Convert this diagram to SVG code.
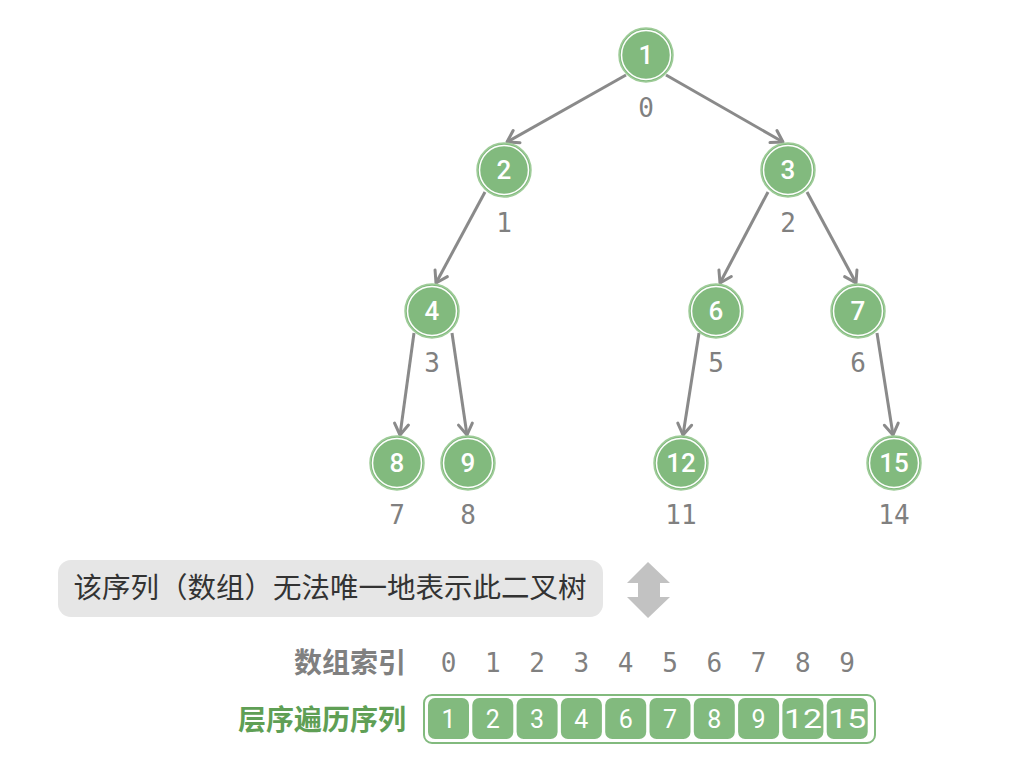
<svg xmlns="http://www.w3.org/2000/svg" width="1034" height="771" viewBox="0 0 1034 771">
<defs>
<marker id="arr" markerUnits="userSpaceOnUse" markerWidth="30" markerHeight="30" refX="0" refY="0" viewBox="-15 -15 30 30" orient="auto" overflow="visible">
<path d="M-11,-7 L0,0 L-11,7" fill="none" stroke="#8a8a8a" stroke-width="3" stroke-linecap="round" stroke-linejoin="round"/>
</marker>
</defs>
<style>
.edge{stroke:#8a8a8a;stroke-width:3;fill:none;marker-end:url(#arr)}
.nc{fill:#82ba7e;stroke:#9fcc99;stroke-width:1.5}
.ring{fill:none;stroke:#ffffff;stroke-width:1.5}
.nt{fill:#ffffff;font-family:Roboto,"DejaVu Sans",sans-serif;font-size:26px;font-weight:500;text-anchor:middle}
.idx{fill:#808080;font-family:"DejaVu Sans Mono","Liberation Mono",monospace;font-size:26px;text-anchor:middle}
.cell{fill:#82ba7e}
.ct{fill:#ffffff;font-family:Roboto,"DejaVu Sans",sans-serif;font-size:25px;text-anchor:middle}
.cjk{font-family:"Noto Sans CJK SC",sans-serif}
</style>
<rect width="1034" height="771" fill="#ffffff"/>
<g id="connectors">
<line class="edge" x1="626" y1="75" x2="507" y2="142"/>
<line class="edge" x1="666" y1="75" x2="783" y2="142"/>
<line class="edge" x1="485" y1="192" x2="436" y2="283"/>
<line class="edge" x1="768" y1="192" x2="720" y2="283"/>
<line class="edge" x1="807" y1="192" x2="856" y2="283"/>
<line class="edge" x1="414" y1="333" x2="400" y2="435"/>
<line class="edge" x1="452" y1="333" x2="467" y2="435"/>
<line class="edge" x1="699" y1="333" x2="683" y2="435"/>
<line class="edge" x1="877" y1="333" x2="893" y2="435"/>
</g>
<g id="node-1"><circle class="nc" cx="646" cy="55" r="27"/><circle class="ring" cx="646" cy="55" r="24.5"/><text class="nt" x="646" y="64">1</text><text class="idx" x="646" y="117">0</text></g>
<g id="node-2"><circle class="nc" cx="504" cy="170" r="27"/><circle class="ring" cx="504" cy="170" r="24.5"/><text class="nt" x="504" y="179">2</text><text class="idx" x="504" y="232">1</text></g>
<g id="node-3"><circle class="nc" cx="788" cy="170" r="27"/><circle class="ring" cx="788" cy="170" r="24.5"/><text class="nt" x="788" y="179">3</text><text class="idx" x="788" y="232">2</text></g>
<g id="node-4"><circle class="nc" cx="432" cy="311" r="27"/><circle class="ring" cx="432" cy="311" r="24.5"/><text class="nt" x="432" y="320">4</text><text class="idx" x="432" y="372">3</text></g>
<g id="node-6"><circle class="nc" cx="716" cy="311" r="27"/><circle class="ring" cx="716" cy="311" r="24.5"/><text class="nt" x="716" y="320">6</text><text class="idx" x="716" y="372">5</text></g>
<g id="node-7"><circle class="nc" cx="858" cy="311" r="27"/><circle class="ring" cx="858" cy="311" r="24.5"/><text class="nt" x="858" y="320">7</text><text class="idx" x="858" y="372">6</text></g>
<g id="node-8"><circle class="nc" cx="397" cy="463" r="27"/><circle class="ring" cx="397" cy="463" r="24.5"/><text class="nt" x="397" y="472">8</text><text class="idx" x="397" y="524">7</text></g>
<g id="node-9"><circle class="nc" cx="468" cy="463" r="27"/><circle class="ring" cx="468" cy="463" r="24.5"/><text class="nt" x="468" y="472">9</text><text class="idx" x="468" y="524">8</text></g>
<g id="node-12"><circle class="nc" cx="681" cy="463" r="27"/><circle class="ring" cx="681" cy="463" r="24.5"/><text class="nt" x="681" y="472">12</text><text class="idx" x="681" y="524">11</text></g>
<g id="node-15"><circle class="nc" cx="894" cy="463" r="27"/><circle class="ring" cx="894" cy="463" r="24.5"/><text class="nt" x="894" y="472">15</text><text class="idx" x="894" y="524">14</text></g>
<g id="note">
<rect x="58" y="560" width="545" height="57" rx="13" fill="#e6e6e6"/>
<text class="cjk" x="330" y="598" font-size="28.5" fill="#333333" text-anchor="middle">该序列（数组）无法唯一地表示此二叉树</text>
</g>
<g id="double-arrow">
<path d="M648,562 L670,583 L660,583 L660,597 L670,597 L648,618 L627,597 L638,597 L638,583 L627,583 Z" fill="#c2c2c2"/>
</g>
<g id="array">
<text class="cjk" x="406" y="673" font-size="28" font-weight="700" fill="#808080" text-anchor="end">数组索引</text>
<text class="cjk" x="406" y="730" font-size="28" font-weight="700" fill="#5f9f55" text-anchor="end">层序遍历序列</text>
<g class="idx">
<text x="448.5" y="672">0</text><text x="492.8" y="672">1</text><text x="537.1" y="672">2</text><text x="581.4" y="672">3</text><text x="625.7" y="672">4</text><text x="670" y="672">5</text><text x="714.3" y="672">6</text><text x="758.6" y="672">7</text><text x="802.9" y="672">8</text><text x="847.2" y="672">9</text>
</g>
<rect x="424" y="695" width="451" height="48" rx="8" fill="#ffffff" stroke="#82ba7e" stroke-width="2"/>
<g>
<rect class="cell" x="428" y="698" width="41" height="41" rx="7"/>
<rect class="cell" x="472.3" y="698" width="41" height="41" rx="7"/>
<rect class="cell" x="516.6" y="698" width="41" height="41" rx="7"/>
<rect class="cell" x="560.9" y="698" width="41" height="41" rx="7"/>
<rect class="cell" x="605.2" y="698" width="41" height="41" rx="7"/>
<rect class="cell" x="649.5" y="698" width="41" height="41" rx="7"/>
<rect class="cell" x="693.8" y="698" width="41" height="41" rx="7"/>
<rect class="cell" x="738.1" y="698" width="41" height="41" rx="7"/>
<rect class="cell" x="782.4" y="698" width="41" height="41" rx="7"/>
<rect class="cell" x="826.7" y="698" width="41" height="41" rx="7"/>
</g>
<g class="ct">
<text x="448.5" y="727.5">1</text><text x="492.8" y="727.5">2</text><text x="537.1" y="727.5">3</text><text x="581.4" y="727.5">4</text><text x="625.7" y="727.5">6</text><text x="670" y="727.5">7</text><text x="714.3" y="727.5">8</text><text x="758.6" y="727.5">9</text><text x="802.9" y="727.5" textLength="38" lengthAdjust="spacingAndGlyphs">12</text><text x="847.2" y="727.5" textLength="38" lengthAdjust="spacingAndGlyphs">15</text>
</g>
</g>
</svg>
